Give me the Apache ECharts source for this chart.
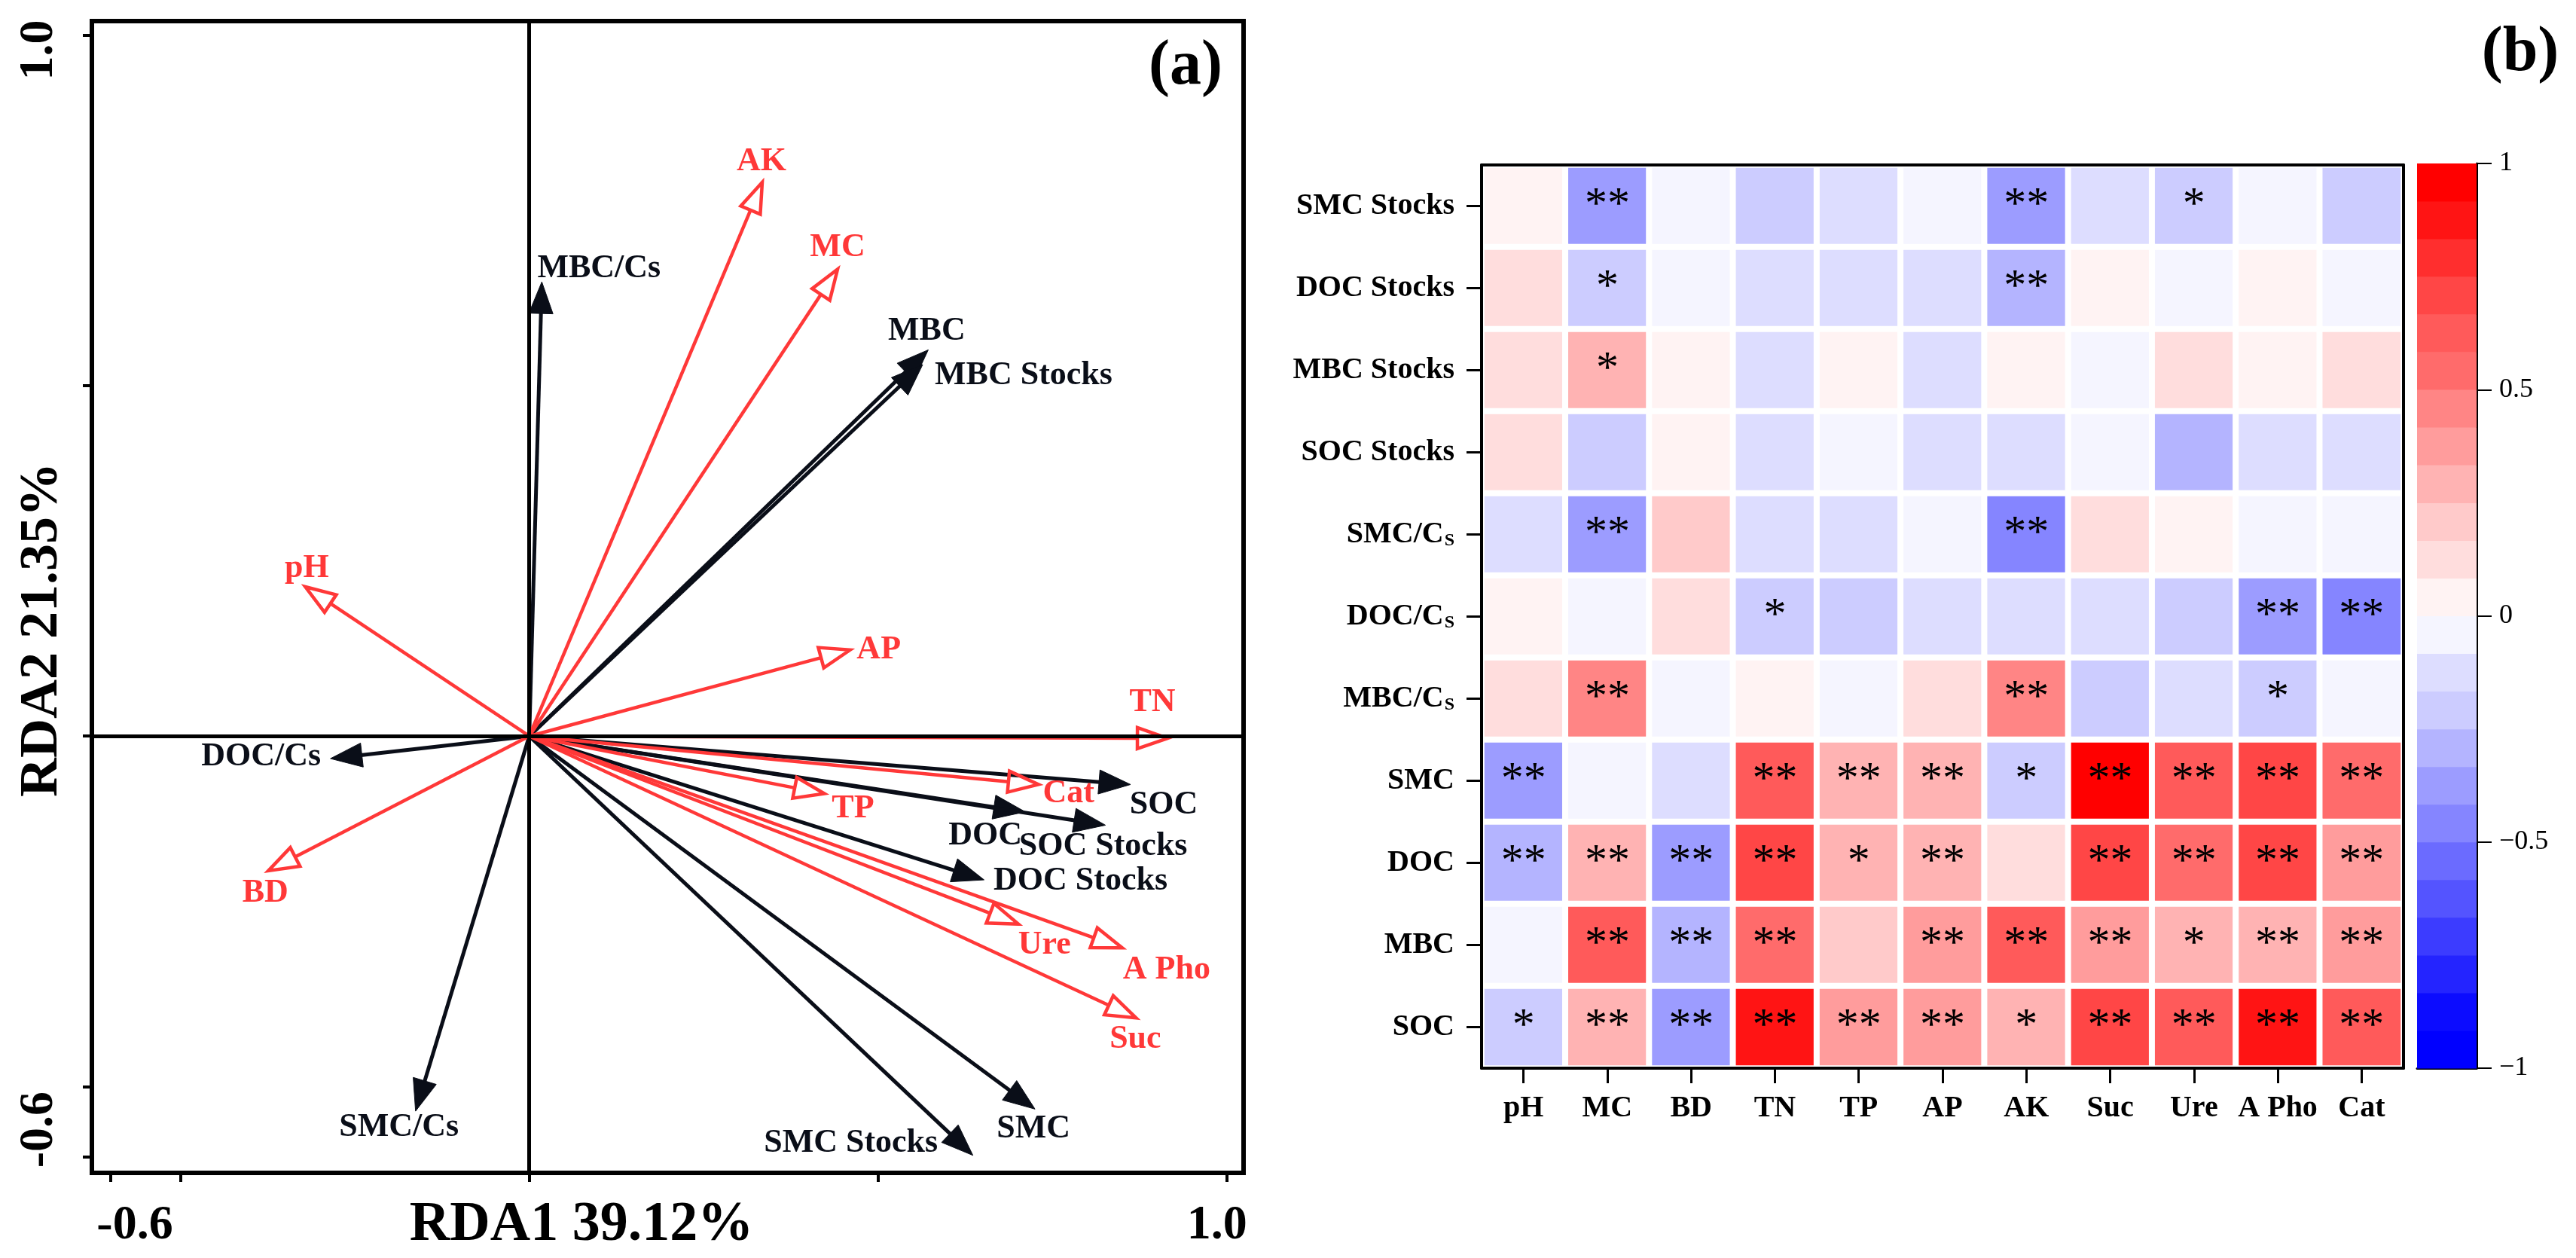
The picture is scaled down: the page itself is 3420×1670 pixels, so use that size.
<!DOCTYPE html>
<html>
<head>
<meta charset="utf-8">
<script src="https://cdn.jsdelivr.net/npm/echarts@6/dist/echarts.min.js"></script>
<style>html,body{margin:0;padding:0;background:#fff}#main{width:3420px;height:1670px}</style>
</head>
<body>
<div id="main"></div>
<script>
// ---------- Panel (a): RDA biplot data ----------
const blackNames = ['MBC/Cs','MBC','MBC Stocks','DOC/Cs','SMC/Cs','SOC','DOC','SOC Stocks','DOC Stocks','SMC','SMC Stocks'];
const blackX = [0.018, 0.572, 0.564, -0.285, -0.163, 0.862, 0.711, 0.826, 0.652, 0.725, 0.636];
const blackY = [0.648, 0.551, 0.530, -0.032, -0.535, -0.069, -0.108, -0.127, -0.205, -0.532, -0.598];

const redNames = ['AK','MC','pH','BD','AP','TN','Cat','TP','Ure','A Pho','Suc'];
const redX = [0.334, 0.442, -0.321, -0.374, 0.460, 0.915, 0.730, 0.423, 0.701, 0.850, 0.870];
const redY = [0.790, 0.666, 0.213, -0.192, 0.123, -0.003, -0.069, -0.082, -0.268, -0.302, -0.402];

const rdaXTicks = [-0.6, -0.5, 0, 0.5, 1.0];
const rdaYTicks = [1.0, 0.5, 0, -0.5, -0.6];
const rdaXTickLabels = [-0.6, 1.0];
const rdaYTickLabels = [1.0, -0.6];

// ---------- Panel (b): correlation heatmap data ----------
const envVars = ['pH','MC','BD','TN','TP','AP','AK','Suc','Ure','A Pho','Cat'];
const carbonVars = ['SMC Stocks','DOC Stocks','MBC Stocks','SOC Stocks','SMC/CS','DOC/CS','MBC/CS','SMC','DOC','MBC','SOC'];

const rSMCStocks = [0.04, -0.38, -0.05, -0.21, -0.13, -0.05, -0.38, -0.13, -0.21, -0.05, -0.21];
const rDOCStocks = [0.13, -0.21, -0.05, -0.13, -0.13, -0.13, -0.30, 0.04, -0.05, 0.04, -0.05];
const rMBCStocks = [0.13, 0.30, 0.04, -0.13, 0.04, -0.13, 0.04, -0.05, 0.13, 0.04, 0.13];
const rSOCStocks = [0.13, -0.21, 0.04, -0.13, -0.05, -0.13, -0.13, -0.05, -0.30, -0.13, -0.13];
const rSMCCs = [-0.13, -0.38, 0.21, -0.13, -0.13, -0.05, -0.46, 0.13, 0.04, -0.05, -0.05];
const rDOCCs = [0.04, -0.05, 0.13, -0.21, -0.21, -0.13, -0.13, -0.13, -0.21, -0.38, -0.46];
const rMBCCs = [0.13, 0.46, -0.05, 0.04, -0.05, 0.13, 0.46, -0.21, -0.13, -0.21, -0.05];
const rSMC = [-0.38, -0.05, -0.13, 0.62, 0.30, 0.30, -0.21, 0.96, 0.62, 0.70, 0.55];
const rDOC = [-0.30, 0.30, -0.38, 0.70, 0.30, 0.30, 0.13, 0.70, 0.55, 0.70, 0.38];
const rMBC = [-0.05, 0.62, -0.30, 0.55, 0.21, 0.38, 0.62, 0.38, 0.30, 0.30, 0.38];
const rSOC = [-0.21, 0.30, -0.38, 0.88, 0.38, 0.38, 0.30, 0.70, 0.62, 0.88, 0.62];
const corrRows = [rSMCStocks, rDOCStocks, rMBCStocks, rSOCStocks, rSMCCs, rDOCCs, rMBCCs, rSMC, rDOC, rMBC, rSOC];

const sSMCStocks = ['', '**', '', '', '', '', '**', '', '*', '', ''];
const sDOCStocks = ['', '*', '', '', '', '', '**', '', '', '', ''];
const sMBCStocks = ['', '*', '', '', '', '', '', '', '', '', ''];
const sSOCStocks = ['', '', '', '', '', '', '', '', '', '', ''];
const sSMCCs = ['', '**', '', '', '', '', '**', '', '', '', ''];
const sDOCCs = ['', '', '', '*', '', '', '', '', '', '**', '**'];
const sMBCCs = ['', '**', '', '', '', '', '**', '', '', '*', ''];
const sSMC = ['**', '', '', '**', '**', '**', '*', '**', '**', '**', '**'];
const sDOC = ['**', '**', '**', '**', '*', '**', '', '**', '**', '**', '**'];
const sMBC = ['', '**', '**', '**', '', '**', '**', '**', '*', '**', '**'];
const sSOC = ['*', '**', '**', '**', '**', '**', '*', '**', '**', '**', '**'];
const sigRows = [sSMCStocks, sDOCStocks, sMBCStocks, sSOCStocks, sSMCCs, sDOCCs, sMBCCs, sSMC, sDOC, sMBC, sSOC];

// colour steps (1/12 each) away from zero
const posColors = ['#FFF3F3','#FFDDDD','#FFCACA','#FFB3B3','#FF9C9C','#FF8585','#FF6B6B','#FF5A5A','#FF4646','#FF2E2E','#FF1414','#FF0000'];
const negColors = ['#F5F5FF','#DDDDFF','#CCCCFF','#B4B4FF','#9C9CFF','#8585FF','#6B6BFF','#5454FF','#3C3CFF','#2424FF','#0C0CFF','#0000FF'];

// ---------- style (not data) ----------
const FONT = '"Liberation Serif", "Times New Roman", serif';
const RED = '#FF3838';
const BLACK = '#0A0E18';
const labelOffset = {
  'MBC/Cs': [76, -18], 'MBC': [-2, -25], 'MBC Stocks': [134, 15], 'DOC/Cs': [-92, -2],
  'SMC/Cs': [-22, 22], 'SOC': [44, 27], 'DOC': [-53, 32], 'SOC Stocks': [-3, 28],
  'DOC Stocks': [128, 2], 'SMC': [-2, 26], 'SMC Stocks': [-162, -16],
  'AK': [-1, -27], 'MC': [0, -29], 'pH': [2, -24], 'BD': [-4, 30], 'AP': [38, 0],
  'TN': [-20, -47], 'Cat': [40, 12], 'TP': [38, 20], 'Ure': [35, 28], 'A Pho': [59, 29], 'Suc': [-1, 28]
};

function arrowRenderer(names, color, filled) {
  return function (params, api) {
    const o = api.coord([0, 0]);
    const t = api.coord([api.value(0), api.value(1)]);
    const dx = t[0] - o[0], dy = t[1] - o[1];
    const len = Math.hypot(dx, dy);
    const ux = dx / len, uy = dy / len;
    const L = filled ? 42 : 40, W = filled ? 16 : 14;
    const bx = t[0] - ux * L, by = t[1] - uy * L;
    const p1 = [bx - uy * W, by + ux * W];
    const p2 = [bx + uy * W, by - ux * W];
    const endF = filled ? 0.6 : 1.0;
    const name = names[params.dataIndex];
    const off = labelOffset[name] || [0, -25];
    return {
      type: 'group',
      children: [
        { type: 'line', shape: { x1: o[0], y1: o[1], x2: t[0] - ux * L * endF, y2: t[1] - uy * L * endF },
          style: { stroke: color, lineWidth: filled ? 5 : 4.5 } },
        { type: 'polygon', shape: { points: [t, p1, p2] },
          style: filled ? { fill: color, stroke: color, lineWidth: 1 } : { fill: 'none', stroke: color, lineWidth: 4.5, lineJoin: 'miter' } },
        { type: 'text', style: { text: name, x: t[0] + off[0], y: t[1] + off[1], align: 'center', verticalAlign: 'middle',
          fill: color, font: 'bold 44px ' + FONT } }
      ]
    };
  };
}

// heatmap data
const heatData = [];
corrRows.forEach((row, r) => row.forEach((v, c) => heatData.push([c, r, v])));

// visual pieces
const pieces = [];
for (let k = 0; k < 12; k++) {
  pieces.push({ gte: k / 12, lt: (k + 1) / 12 + (k === 11 ? 0.001 : 0), color: posColors[k] });
  pieces.push({ gte: -(k + 1) / 12 - (k === 11 ? 0.001 : 0), lt: -k / 12, color: negColors[k] });
}
// colorbar bands bottom->top
const bandColors = negColors.slice().reverse().concat(posColors);
const bandIndex = bandColors.map((c, i) => [i]);

const catLabelFmt = v => v.endsWith('/CS') ? '{n|' + v.slice(0, -1) + '}{s|S}' : '{n|' + v + '}';
const tickFont = { fontSize: 64, fontWeight: 'bold', fontFamily: FONT, color: '#000' };

const chart = echarts.init(document.getElementById('main'));
chart.setOption({
  animation: false,
  backgroundColor: '#fff',
  grid: [
    { left: 122, top: 28, width: 1529, height: 1529, show: true, borderColor: '#000', borderWidth: 6, containLabel: false },
    { left: 1967, top: 219, width: 1224, height: 1199, containLabel: false },
    { left: 3209, top: 217, width: 79, height: 1201, containLabel: false }
  ],
  xAxis: [
    { gridIndex: 0, type: 'value', min: -0.627, max: 1.024,
      axisLine: { show: true, onZero: false, lineStyle: { color: '#000', width: 6 } },
      axisTick: { show: true, customValues: rdaXTicks, length: 12, lineStyle: { color: '#000', width: 4 } },
      axisLabel: { show: true, customValues: rdaXTickLabels, margin: 38,
        formatter: v => (v === rdaXTickLabels[0] ? '{l|' : '{r|') + Number(v).toFixed(1) + '}',
        rich: { l: Object.assign({ padding: [0, 0, 0, 64] }, tickFont), r: Object.assign({ padding: [0, 26, 0, 0] }, tickFont) } },
      splitLine: { show: false } },
    { gridIndex: 1, type: 'category', data: envVars, position: 'bottom', z: 10,
      axisLine: { show: true, lineStyle: { color: '#000', width: 4 } },
      axisTick: { show: true, alignWithLabel: true, length: 20, lineStyle: { color: '#000', width: 3 } },
      axisLabel: { margin: 34, fontSize: 40, fontWeight: 'bold', fontFamily: FONT, color: '#000', interval: 0 },
      splitLine: { show: false } },
    { gridIndex: 2, type: 'value', min: 0, max: 1, show: true,
      axisLine: { show: true, onZero: false, lineStyle: { color: '#000', width: 3 } },
      axisTick: { show: false }, axisLabel: { show: false }, splitLine: { show: false } },
    { gridIndex: 1, type: 'category', data: envVars, position: 'top', z: 10,
      axisLine: { show: true, lineStyle: { color: '#000', width: 4 } },
      axisTick: { show: false }, axisLabel: { show: false }, splitLine: { show: false } }
  ],
  yAxis: [
    { gridIndex: 0, type: 'value', min: -0.623, max: 1.02,
      axisLine: { show: true, onZero: false, lineStyle: { color: '#000', width: 6 } },
      axisTick: { show: true, customValues: rdaYTicks, length: 12, lineStyle: { color: '#000', width: 4 } },
      axisLabel: { show: true, customValues: rdaYTickLabels, rotate: 90, margin: 38,
        formatter: v => (v === rdaYTickLabels[0] ? '{t|' : '{b|') + Number(v).toFixed(1) + '}',
        rich: { t: Object.assign({ padding: [0, 40, 0, 0] }, tickFont), b: Object.assign({ padding: [0, 0, 0, 72] }, tickFont) } },
      splitLine: { show: false } },
    { gridIndex: 1, type: 'category', data: carbonVars, inverse: true, position: 'left', z: 10,
      axisLine: { show: true, lineStyle: { color: '#000', width: 4 } },
      axisTick: { show: true, alignWithLabel: true, length: 20, lineStyle: { color: '#000', width: 3 } },
      axisLabel: { margin: 36, interval: 0, formatter: catLabelFmt,
        rich: {
          n: { fontSize: 40, fontWeight: 'bold', fontFamily: FONT, color: '#000', verticalAlign: 'bottom', lineHeight: 40 },
          s: { fontSize: 24, fontWeight: 'bold', fontFamily: FONT, color: '#000', verticalAlign: 'bottom', lineHeight: 8, padding: [0, 0, 0, 1] }
        } },
      splitLine: { show: false } },
    { gridIndex: 2, type: 'value', min: -1, max: 1, interval: 0.5, position: 'right',
      axisLine: { show: true, onZero: false, lineStyle: { color: '#000', width: 3 } },
      axisTick: { show: true, length: 20, lineStyle: { color: '#000', width: 2 } },
      axisLabel: { margin: 30, fontSize: 36, fontFamily: FONT, color: '#000',
        formatter: v => (v < 0 ? '\u2212' + Math.abs(v) : String(v)) },
      splitLine: { show: false } },
    { gridIndex: 1, type: 'category', data: carbonVars, inverse: true, position: 'right', z: 10,
      axisLine: { show: true, lineStyle: { color: '#000', width: 4 } },
      axisTick: { show: false }, axisLabel: { show: false }, splitLine: { show: false } }
  ],
  visualMap: [{ type: 'piecewise', show: false, seriesIndex: 3, dimension: 2, pieces: pieces }],
  series: [
    { type: 'scatter', xAxisIndex: 0, yAxisIndex: 0, data: [], z: 1,
      markLine: { silent: true, symbol: ['none', 'none'], label: { show: false },
        lineStyle: { color: '#000', width: 5, type: 'solid' },
        data: [{ xAxis: 0 }, { yAxis: 0 }] } },
    { type: 'custom', xAxisIndex: 0, yAxisIndex: 0, z: 3,
      data: blackX.map((x, i) => [x, blackY[i]]), renderItem: arrowRenderer(blackNames, BLACK, true) },
    { type: 'custom', xAxisIndex: 0, yAxisIndex: 0, z: 4,
      data: redX.map((x, i) => [x, redY[i]]), renderItem: arrowRenderer(redNames, RED, false) },
    { type: 'heatmap', xAxisIndex: 1, yAxisIndex: 1, data: heatData,
      itemStyle: { borderColor: '#fff', borderWidth: 8 },
      emphasis: { disabled: true },
      label: { show: true, formatter: p => sigRows[p.value[1]][p.value[0]], fontSize: 60, fontFamily: FONT, color: '#000', offset: [0, 0] } },
    { type: 'custom', xAxisIndex: 2, yAxisIndex: 2, data: bandIndex,
      renderItem: function (params, api) {
        const i = api.value(0);
        const lo = -1 + i / 12, hi = -1 + (i + 1) / 12;
        const a = api.coord([0, hi]), b = api.coord([1, lo]);
        return { type: 'rect', shape: { x: a[0], y: a[1], width: b[0] - a[0], height: b[1] - a[1] + 0.5 },
          style: { fill: bandColors[i] } };
      } }
  ],
  graphic: [
    { type: 'text', x: 772, y: 1627, style: { text: 'RDA1 39.12%', font: 'bold 74px ' + FONT, fill: '#000', align: 'center', verticalAlign: 'middle' } },
    { type: 'text', x: 56, y: 836, rotation: Math.PI / 2, style: { text: 'RDA2 21.35%', font: 'bold 72px ' + FONT, fill: '#000', align: 'center', verticalAlign: 'middle' } },
    { type: 'text', x: 1574, y: 89, style: { text: '(a)', font: 'bold 84px ' + FONT, fill: '#000', align: 'center', verticalAlign: 'middle' } },
    { type: 'text', x: 3346, y: 71, style: { text: '(b)', font: 'bold 84px ' + FONT, fill: '#000', align: 'center', verticalAlign: 'middle' } }
  ]
});
</script>
</body>
</html>
